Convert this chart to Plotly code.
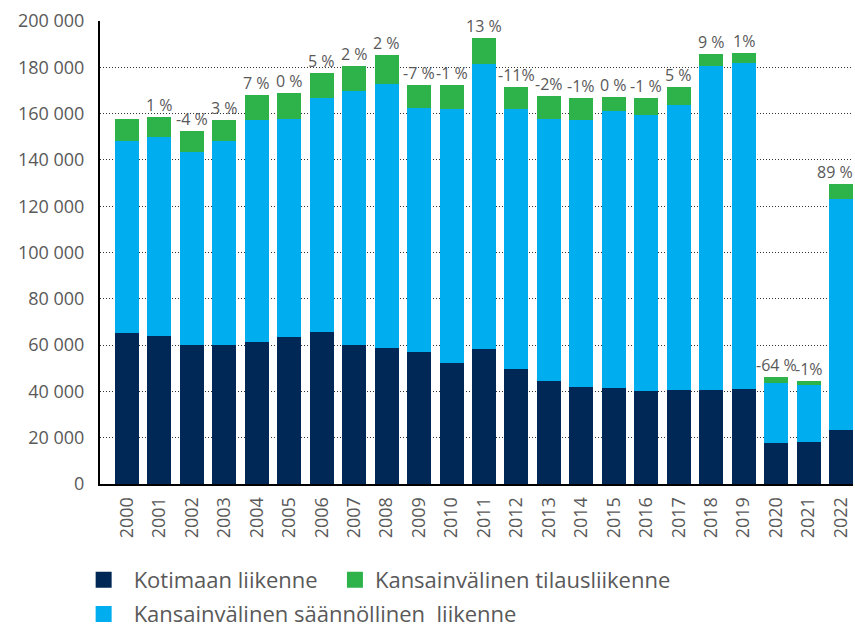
import plotly.graph_objects as go

# Matkustajat vuosittain, liikennelajeittain
years = [str(y) for y in range(2000, 2023)]

kotimaan = [65200, 63900, 60000, 60000, 61300, 63500, 65700, 60000, 58700, 57000,
            52300, 58300, 49700, 44500, 41900, 41500, 40200, 40600, 40600, 41000,
            17700, 18100, 23300]
saannollinen = [83000, 86000, 83500, 88200, 96100, 94200, 101200, 109800, 114200, 105500,
                109700, 123300, 112300, 113200, 115500, 119600, 119200, 123100, 140100, 140900,
                25900, 24700, 99800]
tilaus = [9500, 8600, 9000, 9000, 10600, 11200, 10600, 10900, 12400, 9900,
          10400, 11100, 9500, 9900, 9300, 6100, 7300, 7800, 5000, 4300,
          2600, 1700, 6600]

# Muutos edellisestä vuodesta
muutos = ["", "1 %", "-4 %", "3 %", "7 %", "0 %", "5 %", "2 %", "2 %", "-7 %",
          "-1 %", "13 %", "-11%", "-2%", "-1%", "0 %", "-1 %", "5 %", "9 %", "1%",
          "-64 %", "-1%", "89 %"]

y_ticks = [0, 20000, 40000, 60000, 80000, 100000, 120000, 140000, 160000, 180000, 200000]
y_tick_labels = ["0", "20 000", "40 000", "60 000", "80 000", "100 000",
                 "120 000", "140 000", "160 000", "180 000", "200 000"]

NAVY = "#002856"
BLUE = "#00AEEF"
GREEN = "#2DB34A"
TEXT = "#595959"
FONT = "Open Sans"

# nimi, arvot, väri, selite, selitteen paikka (x, y), symbolin leveys
series = [
    ("Kotimaan liikenne", kotimaan, NAVY, "legend", -0.035, -0.207, 50),
    ("Kansainvälinen säännöllinen  liikenne", saannollinen, BLUE, "legend3", -0.035, -0.281, 50),
    ("Kansainvälinen tilausliikenne", tilaus, GREEN, "legend2", 0.312, -0.207, 30),
]

fig = go.Figure()
for name, vals, color, *_ in series:
    fig.add_trace(go.Bar(x=years, y=vals, name=name, marker_color=color,
                         marker_line_width=0, showlegend=False))

# legend entries with larger square symbols, one legend box per entry
legends = {}
for name, vals, color, leg, lx, ly, iw in series:
    fig.add_trace(go.Scatter(x=[None], y=[None], mode="markers", name=name,
                             marker=dict(symbol="square", size=16, color=color),
                             legend=leg, showlegend=True))
    legends[leg] = dict(orientation="h", x=lx, xanchor="left", y=ly, yanchor="middle",
                        itemwidth=iw, itemsizing="trace", bgcolor="rgba(0,0,0,0)",
                        font=dict(family=FONT, size=22, color=TEXT))

# change labels above each stack; the last one is nudged in from the right edge
totals = [a + b + c for a, b, c in zip(kotimaan, saannollinen, tilaus)]
last = len(totals) - 1
for i, (tot, lbl) in enumerate(zip(totals, muutos)):
    if lbl:
        fig.add_annotation(x=i, y=tot, text=lbl, showarrow=False, yanchor="bottom",
                           yshift=-1, xshift=-6 if i == last else 0,
                           font=dict(family=FONT, size=16, color=TEXT))

fig.update_layout(
    width=855, height=628,
    margin=dict(l=100, r=2, t=21, b=144, autoexpand=False),
    barmode="stack", bargap=0.26,
    plot_bgcolor="white", paper_bgcolor="white",
    font=dict(family=FONT, color=TEXT),
    **legends,
)
fig.update_xaxes(type="category", range=[-0.83, 22.37], tickangle=-90,
                 showline=True, linecolor="black", linewidth=2, ticks="",
                 tickfont=dict(family=FONT, size=18, color=TEXT), ticklabelstandoff=4,
                 showgrid=False)
fig.update_yaxes(range=[0, 200000], tickvals=y_ticks, ticktext=y_tick_labels,
                 showline=True, linecolor="black", linewidth=2, ticks="",
                 zeroline=False, showgrid=True, gridcolor="#333333", gridwidth=1,
                 griddash="1px,2px",
                 tickfont=dict(family=FONT, size=18, color=TEXT), ticklabelstandoff=10)

fig.write_html("out.html")
